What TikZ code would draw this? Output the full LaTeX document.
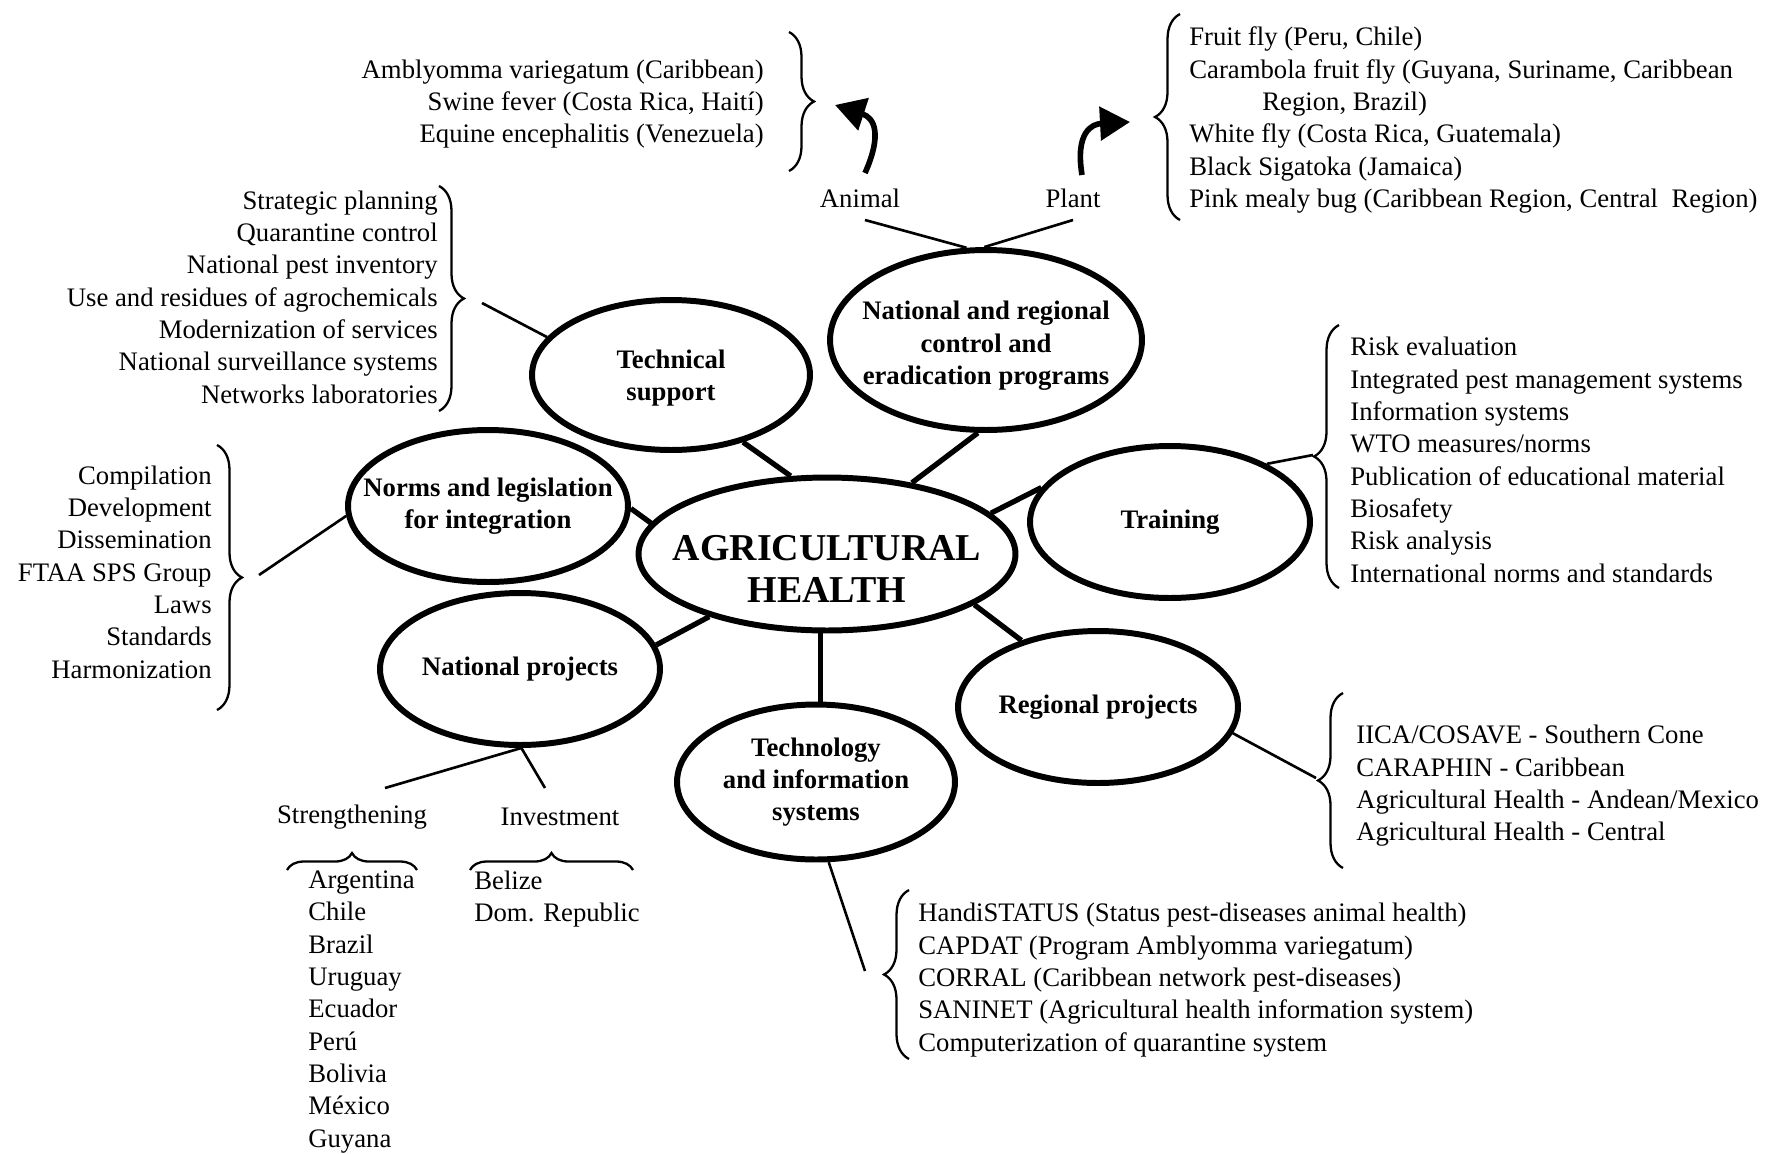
\documentclass[tikz,border=0pt]{standalone}
\usepackage{fontspec}
\setmainfont{Liberation Serif}
\usetikzlibrary{shapes.geometric,decorations.pathreplacing,arrows.meta}

\newcommand\sink[1]{\rule{0pt}{#1}}

\begin{document}
\begin{tikzpicture}[x=0.02cm, y=-0.02cm,
    topic/.style={ellipse, draw, line width=3.4pt, inner sep=-1cm, align=center,
        minimum width=5.6cm, minimum height=3.04cm,
        font=\fontsize{15.2}{18.4}\selectfont\bfseries},
    spoke/.style={line width=3pt},
    twig/.style={line width=1.5pt},
    items/.style={inner sep=0pt, font=\fontsize{15.2}{18.4}\selectfont},
    bracket/.style={decorate, decoration={brace, amplitude=0.5cm}, line width=1.3pt},
    flatbracket/.style={decorate, decoration={brace, amplitude=0.34cm}, line width=1.3pt},
    bent/.style={line width=3.2pt, -{Triangle[length=0.6cm, width=0.66cm]}}]

    \useasboundingbox (0,0) rectangle (1767,1153);

    % the hub and its topics
    \node[topic, minimum width=7.54cm, minimum height=3.06cm,
        font=\fontsize{21.6}{24}\selectfont\bfseries] (health) at (827,554) {\sink{1.1cm}AGRICULTURAL\\HEALTH};
    \node[topic, minimum width=5.56cm, minimum height=3cm] (tech) at (671,375) {\sink{0.5cm}Technical\\support};
    \node[topic, minimum width=6.24cm, minimum height=3.6cm] (natreg) at (986,340) {\sink{0.61cm}National and regional\\control and\\eradication programs};
    \node[topic] (norms) at (488,506) {Norms and legislation\\for integration};
    \node[topic] (training) at (1170,522) {Training};
    \node[topic] (natproj) at (520,669) {National projects};
    \node[topic] (regproj) at (1098,707) {Regional projects};
    \node[topic, minimum width=5.56cm, minimum height=3.1cm] (info) at (816,782) {Technology\\and information\\systems};

    \draw[spoke] (health.115) -- (tech.-43);
    \draw[spoke] (health.40) -- (natreg.265);
    \draw[spoke] (health.170) -- (norms.-1);
    \draw[spoke] (health.14) -- (training.165);
    \draw[spoke] (health.208) -- (natproj.10);
    \draw[spoke] (info.87) -- (info.87 |- health.south);
    \draw[spoke] (health.-19) -- (regproj.139);

    % lists
    \node[items, anchor=east, align=right] (animallist) at (764,104)
        {Amblyomma variegatum (Caribbean)\\Swine fever (Costa Rica, Haití)\\Equine encephalitis (Venezuela)};
    \node[items, anchor=west, align=left] (plantlist) at (1189,120)
        {Fruit fly (Peru, Chile)\\Carambola fruit fly (Guyana, Suriname, Caribbean\\\hspace*{1.46cm}Region, Brazil)\\White fly (Costa Rica, Guatemala)\\Black Sigatoka (Jamaica)\\Pink mealy bug (Caribbean Region, Central\ \ Region)};
    \node[items, anchor=east, align=right] (techlist) at (438,297)
        {Strategic planning\\Quarantine control\\National pest inventory\\Use and residues of agrochemicals\\Modernization of services\\National surveillance systems\\Networks laboratories};
    \node[items, anchor=east, align=right] (normslist) at (212,572)
        {Compilation\\Development\\Dissemination\\FTAA SPS Group\\Laws\\Standards\\Harmonization};
    \node[items, anchor=west, align=left] (trainlist) at (1350,460)
        {Risk evaluation\\Integrated pest management systems\\Information systems\\WTO measures/norms\\Publication of educational material\\Biosafety\\Risk analysis\\International norms and standards};
    \node[items, anchor=west, align=left] (reglist) at (1356,786)
        {IICA/COSAVE - Southern Cone\\CARAPHIN - Caribbean\\Agricultural Health - Andean/Mexico\\Agricultural Health - Central};
    \node[items, anchor=west, align=left] (infolist) at (918,980)
        {HandiSTATUS (Status pest-diseases animal health)\\CAPDAT (Program Amblyomma variegatum)\\CORRAL (Caribbean network pest-diseases)\\SANINET (Agricultural health information system)\\Computerization of quarantine system};
    \node[items, anchor=west, align=left] (strlist) at (308,1012)
        {Argentina\\Chile\\Brazil\\Uruguay\\Ecuador\\Perú\\Bolivia\\México\\Guyana};
    \node[items, anchor=west, align=left] (invlist) at (474,899) {Belize\\Dom. Republic};

    \node[items] (animal) at (860,198) {Animal};
    \node[items] (plant) at (1073,198) {Plant};
    \node[items] (strengthening) at (352,817) {Strengthening};
    \node[items] (investment) at (560,817) {Investment};

    % braces
    \draw[bracket] (789,32) -- (789,171);
    \draw[bracket] (1180,220) -- (1180,14);
    \draw[bracket] (439,186) -- (439,411);
    \draw[bracket] (217,445) -- (217,710);
    \draw[bracket] (1339,588) -- (1339,325);
    \draw[bracket] (1343,868) -- (1343,693);
    \draw[bracket] (909,1059) -- (909,890);
    \draw[flatbracket] (287,870) -- (417,870);
    \draw[flatbracket] (470,870) -- (633,870);

    % thin links
    \coordinate (techfoot) at (482,303);
    \coordinate (normsfoot) at (259,575);
    \coordinate (trainfoot) at (1313,455);
    \coordinate (regfoot) at (1316,778);
    \coordinate (infofoot) at (865,971);
    \coordinate (animalfoot) at (865,220);
    \coordinate (plantfoot) at (1073,220);
    \coordinate (strfoot) at (385,788);
    \coordinate (invfoot) at (545,788);

    \draw[twig] (techfoot) -- (tech.163);
    \draw[twig] (normsfoot) -- (norms.184);
    \draw[twig] (training.31) -- (trainfoot);
    \draw[twig] (regproj.-11) -- (regfoot);
    \draw[twig] (info.279) -- (infofoot);
    \draw[twig] (animalfoot) -- (natreg.102);
    \draw[twig] (plantfoot) -- (natreg.91);
    \draw[twig] (natproj.271) -- (strfoot);
    \draw[twig] (natproj.271) -- (invfoot);

    % curved arrows
    \coordinate (animalrise) at (865,173);
    \coordinate (animalpoint) at (835,105);
    \coordinate (plantrise) at (1082,175);
    \coordinate (plantpoint) at (1130,122);
    \draw[bent] (animalrise) .. controls (882,135) and (875,118) .. (animalpoint);
    \draw[bent] (plantrise) .. controls (1075,132) and (1092,124) .. (plantpoint);
\end{tikzpicture}
\end{document}
